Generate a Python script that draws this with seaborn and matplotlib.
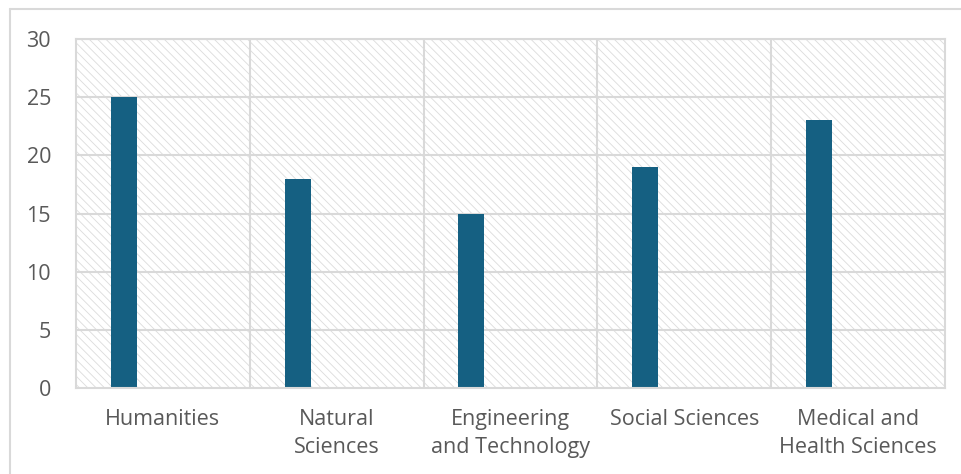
import pandas as pd
import matplotlib.pyplot as plt
import seaborn as sns
from matplotlib.lines import Line2D

# Data
categories = ['Humanities', 'Natural\nSciences', 'Engineering\nand Technology',
              'Social Sciences', 'Medical and\nHealth Sciences']
values = [25, 18, 15, 19, 23]
# the chart leaves room for four series per category; only the first has values
series_names = ['Series1', 'Series2', 'Series3', 'Series4']

df = pd.DataFrame({'field': categories, 'count': values, 'series': series_names[0]})

sns.set_style('white')
plt.rcParams['font.family'] = ['Open Sans', 'DejaVu Sans']
plt.rcParams['hatch.color'] = '#dcdcdc'
plt.rcParams['hatch.linewidth'] = 0.6

grid_col = '#d9d9d9'
text_col = '#595959'

fig = plt.figure(figsize=(9.62, 4.74), dpi=100)
ax = fig.add_axes([76 / 962, 1 - 388 / 474, (945 - 76) / 962, (388 - 39) / 474])

# hatched plot area like the Excel pattern fill
ax.patch.set_facecolor('white')
ax.patch.set_hatch('\\\\\\\\')
ax.patch.set_edgecolor('#dcdcdc')

sns.barplot(data=df, x='field', y='count', hue='series', hue_order=series_names,
            order=categories, palette=['#156082'] * 4, width=0.6, dodge=True,
            legend=False, ax=ax, saturation=1)

ax.set_ylim(0, 30)
ax.set_yticks(range(0, 31, 5))
ax.set_xlim(-0.5, len(categories) - 0.5)
ax.set_xlabel('')
ax.set_ylabel('')

# gridlines: horizontal at ticks, vertical at category borders
for y in range(5, 31, 5):
    ax.axhline(y, color=grid_col, lw=1.5, zorder=0.5)
for i in range(len(categories) - 1):
    ax.axvline(i + 0.5, color=grid_col, lw=1.5, zorder=0.5)
for b in ax.patches:
    b.set_zorder(2)
    b.set_edgecolor('none')

for s in ax.spines.values():
    s.set_color(grid_col)
    s.set_linewidth(1.5)

ax.tick_params(axis='both', length=0, labelsize=15.5, colors=text_col)
ax.tick_params(axis='y', pad=18)
ax.tick_params(axis='x', pad=15)
for lab in ax.get_xticklabels():
    lab.set_linespacing(1.45)

# outer chart border
fig.add_artist(Line2D([10 / 962, 10 / 962], [0, 1 - 9 / 474], transform=fig.transFigure,
                      color=grid_col, lw=1.5))
fig.add_artist(Line2D([10 / 962, 1], [1 - 9 / 474, 1 - 9 / 474], transform=fig.transFigure,
                      color=grid_col, lw=1.5))

plt.savefig('out.png', dpi=100)
